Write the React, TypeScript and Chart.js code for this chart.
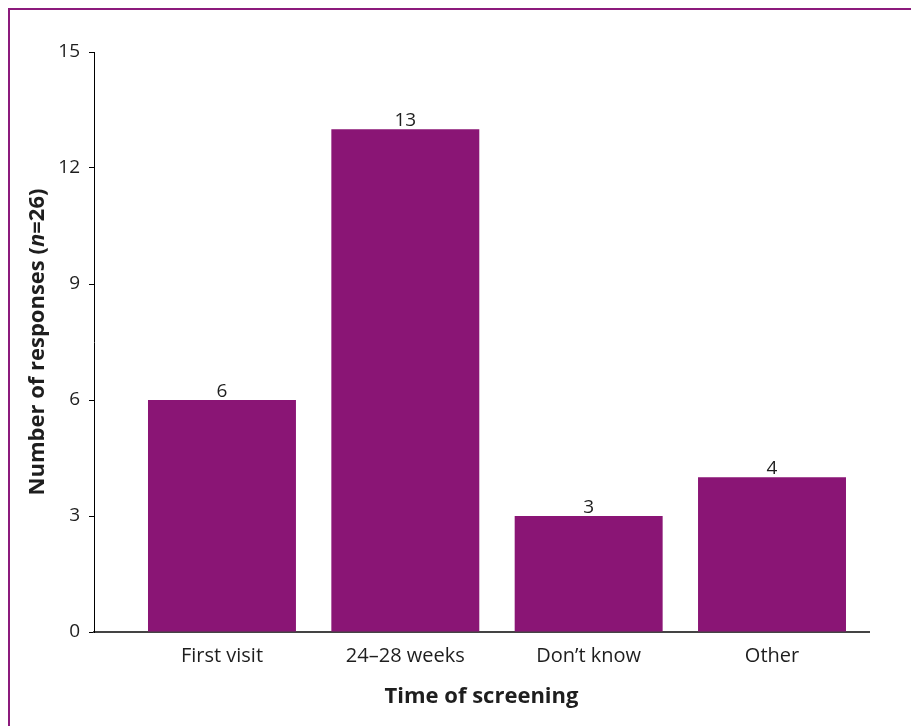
import React, { useEffect, useRef } from "react";
import { Chart, registerables } from "chart.js";

Chart.register(...registerables);

const categories = ["First visit", "24\u201328 weeks", "Don\u2019t know", "Other"];
const responses = [6, 13, 3, 4];
const yTicks = [0, 3, 6, 9, 12, 15];
const xTitle = "Time of screening";
const yTitleParts = [
  { text: "Number of responses (", italic: false },
  { text: "n", italic: true },
  { text: "=26)", italic: false },
];

const PURPLE = "#8a1575";
const TEXT = "#1e1e1e";
const FONT = "'Open Sans'";

const labelsPlugin = {
  id: "valueLabels",
  afterDatasetsDraw(chart: any) {
    const ctx = chart.ctx;
    const meta = chart.getDatasetMeta(0);
    ctx.save();
    ctx.font = `19px ${FONT}`;
    ctx.fillStyle = TEXT;
    ctx.textAlign = "center";
    ctx.textBaseline = "alphabetic";
    meta.data.forEach((bar: any, i: number) => {
      ctx.fillText(String(responses[i]), bar.x, bar.y - 3);
    });
    ctx.restore();
  },
};

const yTitlePlugin = {
  id: "yTitle",
  afterDraw(chart: any) {
    const ctx = chart.ctx;
    const area = chart.chartArea;
    const cy = (area.top + area.bottom) / 2;
    const cx = 28;
    ctx.save();
    ctx.translate(cx, cy);
    ctx.rotate(-Math.PI / 2);
    ctx.fillStyle = TEXT;
    ctx.textBaseline = "middle";
    ctx.textAlign = "left";
    const fonts = yTitleParts.map((p) => `${p.italic ? "italic " : ""}bold 22px ${FONT}`);
    let total = 0;
    const widths = yTitleParts.map((p, i) => {
      ctx.font = fonts[i];
      const w = ctx.measureText(p.text).width;
      total += w;
      return w;
    });
    let x = -total / 2;
    yTitleParts.forEach((p, i) => {
      ctx.font = fonts[i];
      ctx.fillText(p.text, x, 0);
      x += widths[i];
    });
    ctx.restore();
  },
};

export default function App() {
  const ref = useRef<HTMLCanvasElement>(null);
  useEffect(() => {
    if (!ref.current) return;
    Chart.defaults.font.family = FONT;
    const chart = new Chart(ref.current, {
      type: "bar",
      data: {
        datasets: [
          {
            data: responses.map((v, i) => ({ x: i, y: v })),
            backgroundColor: PURPLE,
            borderWidth: 0,
            categoryPercentage: 1,
            barPercentage: 0.807,
          },
        ],
      },
      options: {
        animation: false,
        responsive: false,
        layout: { padding: { left: 0, right: 42, top: 42, bottom: 0 } },
        plugins: { legend: { display: false }, tooltip: { enabled: false } },
        scales: {
          x: {
            type: "linear",
            min: -0.698,
            max: 3.529,
            offset: false,
            grid: { display: false, offset: false },
            border: { display: true, color: "#444", width: 2 },
            afterBuildTicks: (s: any) => {
              s.ticks = categories.map((_, i) => ({ value: i }));
            },
            afterFit: (s: any) => {
              s.height = 86;
            },
            ticks: {
              padding: 4,
              autoSkip: false,
              maxRotation: 0,
              color: TEXT,
              font: { size: 20, family: FONT },
              callback: (v: any) => categories[v] ?? "",
            },
            title: {
              display: true,
              text: xTitle,
              color: TEXT,
              font: { size: 22, weight: "bold", family: FONT },
              padding: { top: 0, bottom: 8 },
            },
          },
          y: {
            min: 0,
            max: 15,
            afterBuildTicks: (s: any) => {
              s.ticks = yTicks.map((v) => ({ value: v }));
            },
            afterFit: (s: any) => {
              s.width = 84;
            },
            grid: {
              display: true,
              drawOnChartArea: false,
              drawTicks: true,
              tickLength: 5,
              color: "#000",
            },
            border: { display: true, color: "#000", width: 1 },
            ticks: {
              padding: 9,
              color: TEXT,
              font: { size: 19, family: FONT },
            },
          },
        },
      },
      plugins: [labelsPlugin, yTitlePlugin],
    } as any);
    return () => chart.destroy();
  }, []);
  return (
    <div
      style={{
        position: "fixed",
        left: 8,
        top: 8,
        right: -20,
        bottom: -20,
        borderTop: "2px solid #8c1a7c",
        borderLeft: "2px solid #8c1a7c",
        overflow: "hidden",
      }}
    >
      <canvas ref={ref} width={901} height={708} style={{ display: "block" }} />
    </div>
  );
}
